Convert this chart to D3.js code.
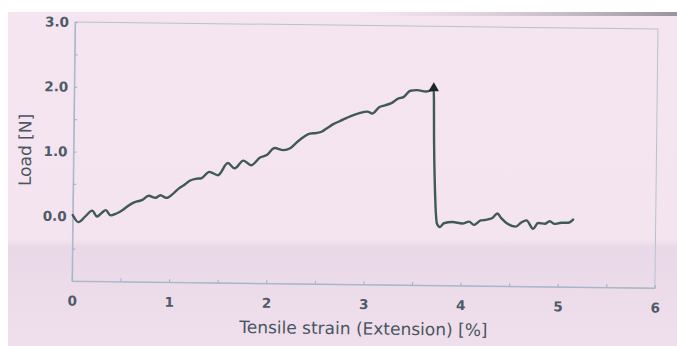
<!DOCTYPE html>
<html>
<head>
<meta charset="utf-8">
<script src="https://cdn.jsdelivr.net/npm/d3@7"></script>
<style>
  html, body { margin: 0; padding: 0; background: #ffffff; }
  svg { display: block; }
</style>
</head>
<body>
<svg id="chart" width="677" height="346"></svg>
<script>
// Tensile test: load vs. strain, rising to break then dropping to ~0
const strain = [
  0.00, 0.06, 0.13, 0.20, 0.25, 0.30, 0.34, 0.39, 0.45, 0.51,
  0.56, 0.61, 0.66, 0.71, 0.78, 0.85, 0.90, 0.96, 1.04, 1.09,
  1.14, 1.20, 1.26, 1.32, 1.40, 1.49, 1.59, 1.66, 1.75, 1.83,
  1.92, 1.99, 2.07, 2.16, 2.23, 2.31, 2.37, 2.43, 2.50, 2.55,
  2.61, 2.67, 2.74, 2.81, 2.87, 2.93, 3.02, 3.07, 3.14, 3.20,
  3.26, 3.34, 3.39, 3.46, 3.53, 3.62, 3.70, 3.71, 3.73, 3.75,
  3.78, 3.82, 3.91, 4.01, 4.08, 4.13, 4.20, 4.25, 4.32, 4.37,
  4.41, 4.48, 4.56, 4.62, 4.67, 4.74, 4.79, 4.86, 4.91, 4.96,
  5.03, 5.10, 5.15
];
const load = [
  0.02, -0.09, 0.00, 0.09, 0.00, 0.06, 0.10, 0.02, 0.05, 0.10,
  0.16, 0.21, 0.24, 0.26, 0.33, 0.30, 0.34, 0.30, 0.38, 0.45,
  0.50, 0.57, 0.60, 0.61, 0.71, 0.66, 0.85, 0.77, 0.89, 0.82,
  0.94, 0.98, 1.09, 1.06, 1.09, 1.20, 1.27, 1.32, 1.33, 1.35,
  1.41, 1.47, 1.52, 1.57, 1.61, 1.64, 1.67, 1.64, 1.74, 1.77,
  1.80, 1.88, 1.90, 2.00, 2.01, 1.99, 2.02, 1.20, 0.30, -0.05,
  -0.10, -0.04, -0.02, -0.04, -0.01, -0.06, 0.01, 0.02, 0.05, 0.12,
  0.05, -0.04, -0.08, -0.01, 0.02, -0.11, -0.02, -0.03, 0.01, -0.03,
  -0.01, -0.01, 0.04
];
// Break point (maximum load) marked with a triangle
const breakStrain = 3.70;
const breakLoad = 2.02;

const xTickLabels = [0, 1, 2, 3, 4, 5, 6];
const yTickLabels = [0.0, 1.0, 2.0, 3.0];
const xTitle = "Tensile strain (Extension) [%]";
const yTitle = "Load [N]";

const svg = d3.select("#chart");
const W = 677, H = 346;

// Paper background
const defs = svg.append("defs");
const bg = defs.append("linearGradient").attr("id", "paper")
  .attr("x1", 0).attr("y1", 0).attr("x2", 0).attr("y2", 1);
bg.append("stop").attr("offset", "0%").attr("stop-color", "#f4e5f0");
bg.append("stop").attr("offset", "68%").attr("stop-color", "#f3e4ef");
bg.append("stop").attr("offset", "70.5%").attr("stop-color", "#e9d9e8");
bg.append("stop").attr("offset", "82%").attr("stop-color", "#ecdcea");
bg.append("stop").attr("offset", "100%").attr("stop-color", "#efdfec");
const shade = defs.append("linearGradient").attr("id", "edgeShade")
  .attr("x1", 0).attr("y1", 0).attr("x2", 1).attr("y2", 0);
shade.append("stop").attr("offset", "0%").attr("stop-color", "#c9c0c8").attr("stop-opacity", 0);
shade.append("stop").attr("offset", "100%").attr("stop-color", "#8f8a92").attr("stop-opacity", 0.9);

svg.append("rect").attr("x", 8).attr("y", 12).attr("width", W - 8).attr("height", H - 12)
  .attr("fill", "url(#paper)");
svg.append("rect").attr("x", 360).attr("y", 12).attr("width", W - 360).attr("height", 4)
  .attr("fill", "url(#edgeShade)");

// Plot geometry (the printed sheet sits slightly tilted)
const L = 75, T = 22, PW = 583, PH = 259;
const g = svg.append("g").attr("transform", `rotate(0.68, ${L}, ${T})`);

const x = d3.scaleLinear().domain([0, 6]).range([L, L + PW]);
const y = d3.scaleLinear().domain([-1, 3]).range([T + PH, T]);

const axisColor = "#a7b6c6";
const textColor = "#4e5a66";

// Frame (top and right)
g.append("rect").attr("x", L).attr("y", T).attr("width", PW).attr("height", PH)
  .attr("fill", "none").attr("stroke", "#b6c2cf").attr("stroke-width", 1);

// Axes
const xAxis = d3.axisBottom(x)
  .tickValues(d3.range(0, 6.01, 0.5))
  .tickFormat(d => Number.isInteger(d) && xTickLabels.includes(d) ? String(d) : "")
  .tickSizeInner(-3).tickSizeOuter(0).tickPadding(15);
const yAxis = d3.axisLeft(y)
  .tickValues(d3.range(-1, 3.01, 0.5))
  .tickFormat(d => yTickLabels.includes(d) ? d3.format(".1f")(d) : "")
  .tickSizeInner(-3).tickSizeOuter(0).tickPadding(6);

function styleAxis(sel) {
  sel.select(".domain").attr("stroke", axisColor).attr("stroke-width", 1.2);
  sel.selectAll(".tick line").attr("stroke", axisColor).attr("stroke-width", 1.2);
  sel.selectAll(".tick text")
    .attr("fill", textColor)
    .attr("font-family", "DejaVu Sans, Verdana, sans-serif")
    .attr("font-weight", "bold")
    .attr("font-size", 13.5);
}
g.append("g").attr("transform", `translate(0, ${T + PH})`).call(xAxis).call(styleAxis);
g.append("g").attr("transform", `translate(${L}, 0)`).call(yAxis).call(styleAxis);

// Axis titles
g.append("text")
  .attr("x", 367).attr("y", 331)
  .attr("text-anchor", "middle")
  .attr("font-family", "DejaVu Sans, Verdana, sans-serif")
  .attr("font-size", 17)
  .attr("fill", "#4a5560")
  .text(xTitle);
g.append("text")
  .attr("transform", "translate(26.5, 150.5) rotate(-90)")
  .attr("text-anchor", "middle")
  .attr("dy", "0.36em")
  .attr("font-family", "DejaVu Sans, Verdana, sans-serif")
  .attr("font-size", 17)
  .attr("fill", "#4a5560")
  .text(yTitle);

// Load curve
const pts = strain.map((s, i) => [s, load[i]]);
g.append("path")
  .datum(pts)
  .attr("d", d3.line().x(d => x(d[0])).y(d => y(d[1])).curve(d3.curveMonotoneX))
  .attr("fill", "none")
  .attr("stroke", "#3f5959")
  .attr("stroke-width", 2.4)
  .attr("stroke-linejoin", "round")
  .attr("stroke-linecap", "round");

// Break marker
g.append("path")
  .attr("d", d3.symbol().type(d3.symbolTriangle).size(48)())
  .attr("transform", `translate(${x(breakStrain)}, ${y(breakLoad) - 1.5})`)
  .attr("fill", "#1e2626");
</script>
</body>
</html>
